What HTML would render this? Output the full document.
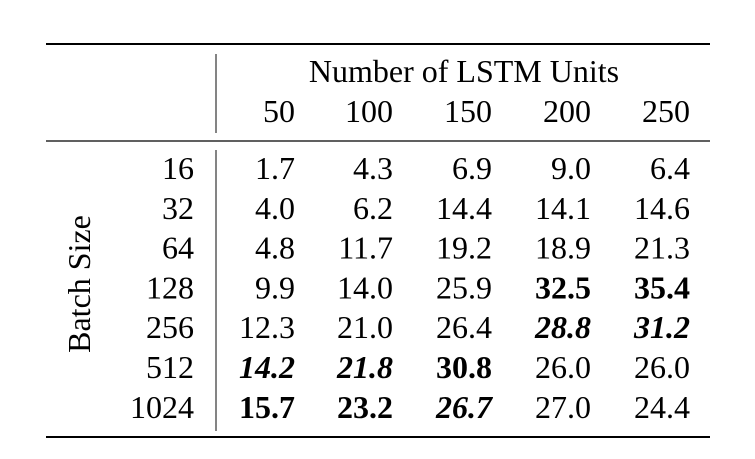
<!DOCTYPE html>
<html><head><meta charset="utf-8"><style>
html,body{margin:0;padding:0;background:#fff;}
svg text{font-family:"Liberation Serif",serif;font-size:32px;fill:#000;}
</style></head><body>
<svg width="755" height="454">
<line x1="46" y1="44" x2="710" y2="44" stroke="#000" stroke-width="2"/>
<line x1="46" y1="141" x2="710" y2="141" stroke="#000" stroke-width="1.2"/>
<line x1="46" y1="437" x2="710" y2="437" stroke="#000" stroke-width="2"/>
<line x1="216" y1="54" x2="216" y2="133" stroke="#333" stroke-width="1.2"/>
<line x1="216" y1="150" x2="216" y2="431" stroke="#333" stroke-width="1.2"/>
<text x="464" y="82" text-anchor="middle">Number of LSTM Units</text>
<text transform="translate(90,284) rotate(-90)" text-anchor="middle">Batch Size</text>
<g id="g"></g>
</svg>
<script>
const units=["50","100","150","200","250"];
const batches=["16","32","64","128","256","512","1024"];
const values=[
["1.7","4.3","6.9","9.0","6.4"],
["4.0","6.2","14.4","14.1","14.6"],
["4.8","11.7","19.2","18.9","21.3"],
["9.9","14.0","25.9","32.5","35.4"],
["12.3","21.0","26.4","28.8","31.2"],
["14.2","21.8","30.8","26.0","26.0"],
["15.7","23.2","26.7","27.0","24.4"]];
const styles=[
["","","","",""],["","","","",""],["","","","",""],
["","","","b","b"],["","","","bi","bi"],["bi","bi","b","",""],["b","b","bi","",""]];
const colX=[295,393,492,591,690];
const ns="http://www.w3.org/2000/svg";
const g=document.getElementById('g');
function t(x,y,s,st){const e=document.createElementNS(ns,'text');e.setAttribute('x',x);e.setAttribute('y',y);e.setAttribute('text-anchor','end');
if(st.includes('b'))e.setAttribute('font-weight','bold');if(st.includes('i'))e.setAttribute('font-style','italic');e.textContent=s;g.appendChild(e);return e;}
units.forEach((u,j)=>{const e=t(colX[j],122,u,"");

});
batches.forEach((b,i)=>{const y=179+i*39.8;const e=t(194,y,b,"");


values[i].forEach((v,j)=>{const c=t(colX[j],y,v,styles[i][j]);

});});
</script>
</body></html>
